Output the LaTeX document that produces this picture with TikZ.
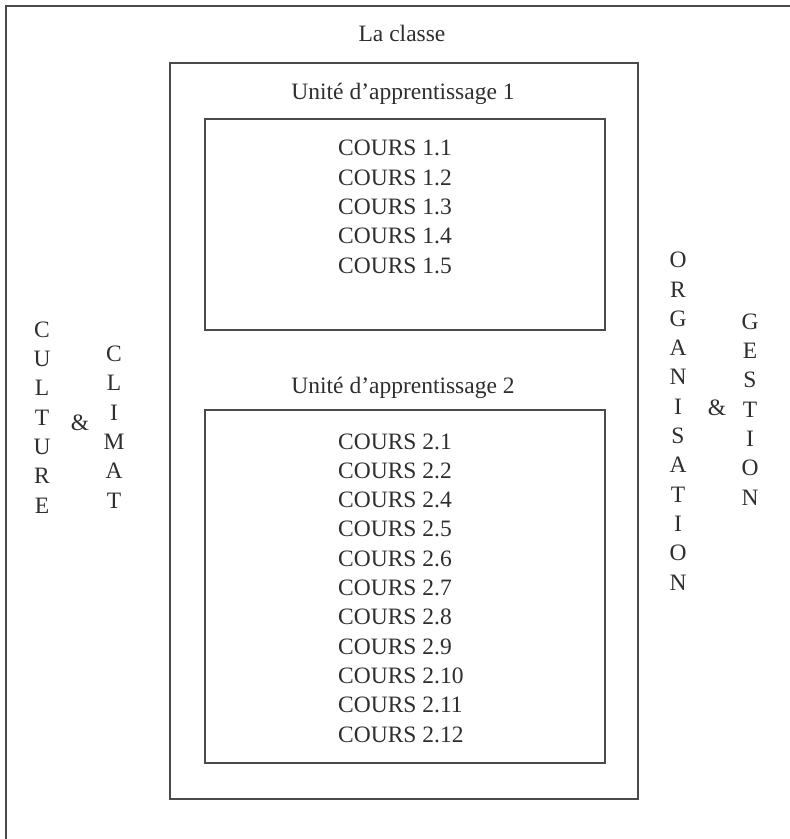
\documentclass[tikz,border=0pt]{standalone}
\usepackage{fontspec}
\setmainfont{Liberation Serif}
\usepackage{tikz}
\definecolor{ink}{HTML}{2E2E2E}
\definecolor{rule}{HTML}{4A4A4A}
\tikzset{
  frame/.style={draw=rule, line width=1.1pt},
  txt/.style={font=\fontsize{23.5}{29.3}\selectfont, text=ink, inner sep=0pt, anchor=base},
  vword/.style={txt, align=center},
  list/.style={txt, align=left, anchor=base west},
}

\begin{document}
\begin{tikzpicture}[x=1pt, y=-1pt]
  \useasboundingbox (0,0) rectangle (790,839);
  \clip (0,0) rectangle (790,839);
  % frames: the outer one runs off the page at right and bottom
  \draw[frame] (6,6) rectangle (820,870);
  \draw[frame] (170,63) rectangle (638,799);
  \draw[frame] (205,119) rectangle (605,330);
  \draw[frame] (205,410) rectangle (605,763);

  % multi-line nodes sit on the baseline of their last line
  \node[txt] (classe) at (402,41) {La classe};
  \node[txt] (ua1) at (403,99) {Unité d’apprentissage 1};
  \node[list] (cours1) at (338,273) {COURS 1.1\\COURS 1.2\\COURS 1.3\\COURS 1.4\\COURS 1.5};
  \node[txt] (ua2) at (403,393) {Unité d’apprentissage 2};
  \node[list] (cours2) at (338,742) {COURS 2.1\\COURS 2.2\\COURS 2.4\\COURS 2.5\\COURS 2.6\\COURS 2.7\\COURS 2.8\\COURS 2.9\\COURS 2.10\\COURS 2.11\\COURS 2.12};

  % side words, one letter per line
  \node[vword] (culture) at (42,513) {C\\U\\L\\T\\U\\R\\E};
  \node[txt] (et1) at (80,430) {\&};
  \node[vword] (climat) at (114,508) {C\\L\\I\\M\\A\\T};
  \node[vword] (orga) at (678,590) {O\\R\\G\\A\\N\\I\\S\\A\\T\\I\\O\\N};
  \node[txt] (et2) at (717,415) {\&};
  \node[vword] (gestion) at (750,505) {G\\E\\S\\T\\I\\O\\N};
\end{tikzpicture}
\end{document}
